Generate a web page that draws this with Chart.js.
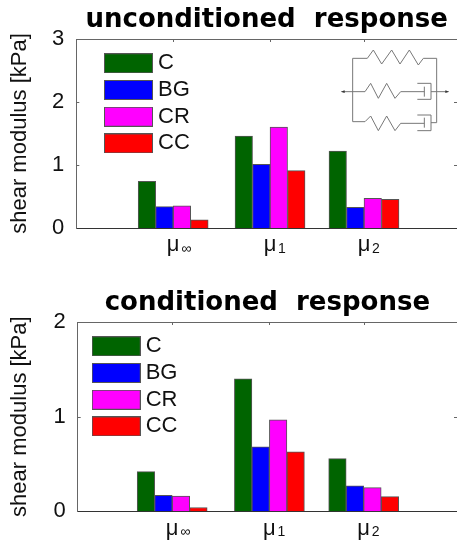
<!DOCTYPE html>
<html><head><meta charset="utf-8">
<script src="https://cdn.jsdelivr.net/npm/chart.js@4"></script>
<style>
html,body{margin:0;padding:0;background:#fff;overflow:hidden;width:457px;height:541px}
.w{position:absolute;left:0;width:457px}
canvas{display:block}
svg{position:absolute;left:330px;top:40px}
</style></head><body>
<div class="w" style="top:0;height:270px"><canvas id="a"></canvas></div>
<div class="w" style="top:270px;height:271px"><canvas id="b"></canvas></div>
<svg width="120" height="100" viewBox="0 0 360 300" fill="none" stroke="#777" stroke-width="3">
<path d="M68 245V55H112L130 30L155 72L185 30L210 72L238 30L265 75L280 55H320V248H303"/>
<path d="M42 155H105L122 130L145 175L170 130L195 175L212 155H283M283 140V170M262 130H303V178H262M303 155H348"/>
<path d="M68 245H105L122 228L145 272L170 228L195 272L212 250H283M283 233V263M262 225H303V272H262"/>
<path d="M32 155L44 151V159ZM358 155L346 151V159Z" fill="#333" stroke="none"/>
</svg>
<script>
const categories = ['μ', 'μ', 'μ'];
const subscripts = ['∞', '1', '2'];
const categoryPositions = [1, 2, 2.97];
const seriesNames = ['C', 'BG', 'CR', 'CC'];
const seriesColors = ['#006400', '#0000ff', '#ff00ff', '#ff0000'];
const unconditionedC = [0.74, 1.46, 1.22];
const unconditionedBG = [0.34, 1.01, 0.33];
const unconditionedCR = [0.35, 1.60, 0.47];
const unconditionedCC = [0.13, 0.91, 0.455];
const conditionedC = [0.42, 1.40, 0.557];
const conditionedBG = [0.17, 0.68, 0.268];
const conditionedCR = [0.16, 0.966, 0.25];
const conditionedCC = [0.04, 0.628, 0.155];

const FONT = '"Liberation Sans", Arial, sans-serif';

function swatch(color) {
  const s = document.createElement('canvas');
  s.width = 49; s.height = 20;
  const g = s.getContext('2d');
  g.fillStyle = color; g.fillRect(0, 0, 49, 20);
  g.strokeStyle = '#555'; g.lineWidth = 1; g.strokeRect(.5, .5, 48, 19);
  return s;
}
const swatches = seriesColors.map(swatch);

const furniture = {
  id: 'furniture',
  beforeDraw(chart, _, o) {
    const ca = chart.chartArea, l = chart.legend;
    l.left = ca.left + o.legendX - l.options.labels.padding;
    l.right = l.left + 120;
    l.top = ca.top + o.legendY - l.options.labels.padding;
    l.bottom = ca.bottom;
    l.draw = function () { this._draw(); };
  },
  afterDraw(chart) {
    const c = chart.ctx, ca = chart.chartArea, x = chart.scales.x, y = chart.scales.y;
    c.save();
    c.strokeStyle = '#666'; c.lineWidth = 1;
    c.beginPath();
    c.moveTo(ca.left, ca.top + .5); c.lineTo(ca.right, ca.top + .5);
    categoryPositions.forEach(v => {
      const p = Math.round(x.getPixelForValue(v)) + .5;
      c.moveTo(p, ca.top); c.lineTo(p, ca.top + 3);
    });
    y.ticks.forEach(t => {
      if (t.value === y.min || t.value === y.max) return;
      const p = Math.round(y.getPixelForValue(t.value)) + .5;
      c.moveTo(ca.left, p); c.lineTo(ca.left + 3, p);
      c.moveTo(ca.right, p); c.lineTo(ca.right - 3, p);
    });
    c.stroke();
    c.fillStyle = '#111';
    c.font = '14px ' + FONT;
    c.textBaseline = 'alphabetic'; c.textAlign = 'left';
    categoryPositions.forEach((v, i) => {
      c.fillText(subscripts[i], x.getPixelForValue(v) + 8, ca.bottom + 25);
    });
    c.restore();
  }
};

function make(id, title, series, yMax, o) {
  return new Chart(document.getElementById(id), {
    type: 'bar',
    data: {
      datasets: seriesNames.map((n, i) => ({
        label: n,
        data: series[i].map((v, k) => ({ x: categoryPositions[k], y: v })),
        backgroundColor: seriesColors[i],
        borderColor: '#555',
        borderWidth: 1,
        barThickness: 17.5
      }))
    },
    plugins: [furniture],
    options: {
      responsive: true, maintainAspectRatio: false, animation: false,
      layout: { padding: 0 },
      plugins: {
        tooltip: { enabled: false },
        furniture: { legendX: o.legendX + 6, legendY: 13.3 },
        title: {
          display: true, text: title, fullSize: false, color: '#000',
          font: { family: '"DejaVu Sans"', size: 26, weight: 'bold' },
          padding: { top: o.titleTop, bottom: 3.4 }
        },
        legend: {
          position: 'chartArea', align: 'start',
          labels: {
            usePointStyle: true, pointStyleWidth: 37, boxHeight: 20, padding: 4.7, color: '#111',
            font: { family: FONT, size: 22 },
            generateLabels(chart) {
              return Chart.defaults.plugins.legend.labels.generateLabels(chart)
                .map((it, i) => Object.assign(it, { pointStyle: swatches[i] }));
            }
          }
        }
      },
      scales: {
        x: {
          type: 'linear', offset: false, min: o.xMin, max: 3.93,
          afterBuildTicks: s => { s.ticks = categoryPositions.map(value => ({ value })); },
          afterFit: s => { s.height = o.xH; },
          grid: { display: false },
          border: { color: '#333' },
          ticks: {
            autoSkip: false, maxRotation: 0, padding: -4, color: '#111',
            font: { family: FONT, size: 22 },
            callback: (v) => categories[categoryPositions.indexOf(v)]
          }
        },
        y: {
          min: 0, max: yMax,
          afterFit: s => { s.width = o.yW; },
          grid: { display: false },
          border: { color: '#666' },
          title: {
            display: true, text: 'shear modulus [kPa]', color: '#111',
            font: { family: FONT, size: 22 }, padding: { top: 7, bottom: 0 }
          },
          ticks: {
            stepSize: 1, padding: 4, color: '#111',
            font: { family: FONT, size: 22 }
          }
        }
      }
    }
  });
}
make('a', 'unconditioned  response',
  [unconditionedC, unconditionedBG, unconditionedCR, unconditionedCC], 3,
  { legendX: 27.7, titleTop: 4.4, xH: 42, yW: 76.3, xMin: 0 });
make('b', 'conditioned  response',
  [conditionedC, conditionedBG, conditionedCR, conditionedCC], 2,
  { legendX: 14, titleTop: 17.4, xH: 29.7, yW: 77.7, xMin: 0.028 });
</script>
</body></html>
